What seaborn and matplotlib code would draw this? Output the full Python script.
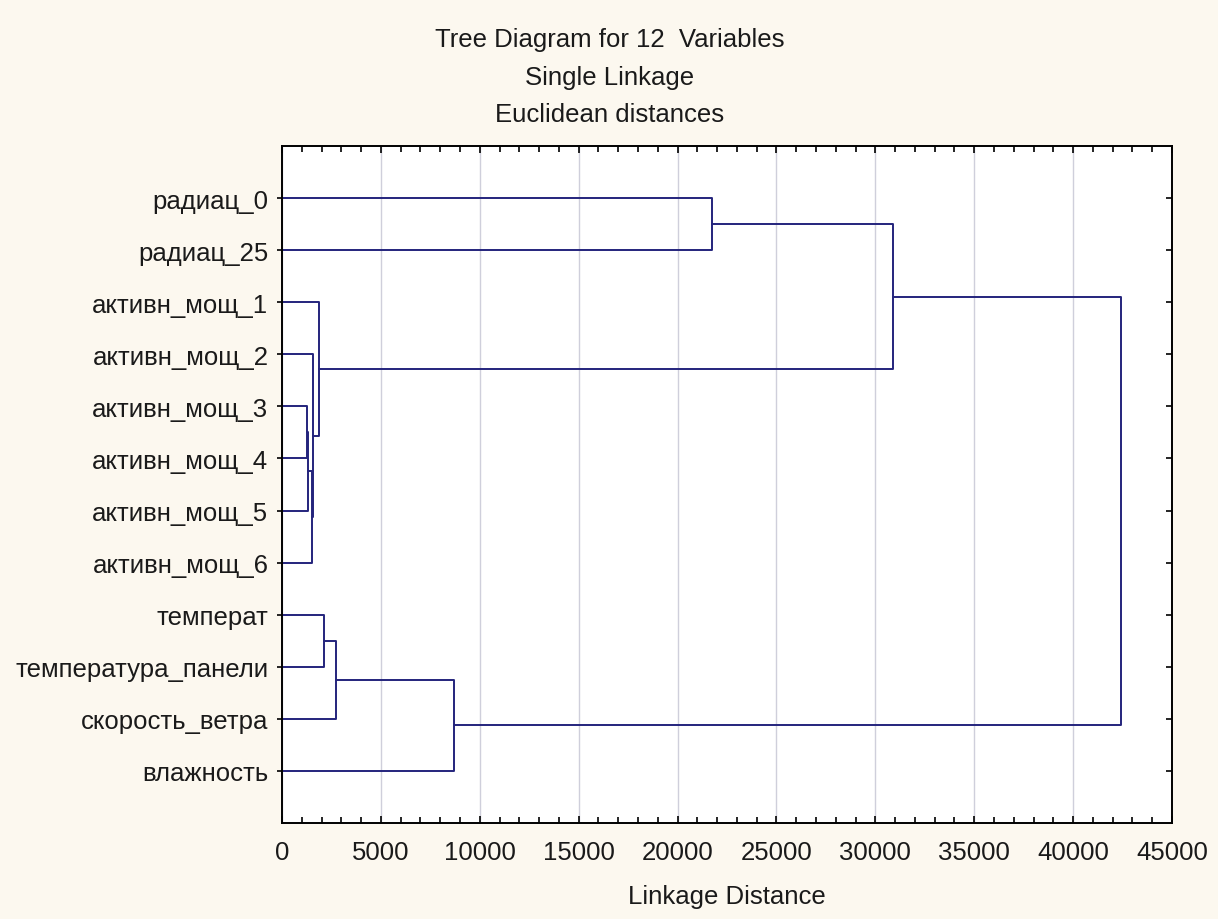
import numpy as np
import pandas as pd
import matplotlib
matplotlib.use("Agg")
import matplotlib.pyplot as plt
from matplotlib.ticker import MultipleLocator
import seaborn as sns

# ---- data ----
labels = ["радиац_0", "радиац_25", "активн_мощ_1", "активн_мощ_2",
          "активн_мощ_3", "активн_мощ_4", "активн_мощ_5", "активн_мощ_6",
          "температ", "температура_панели", "скорость_ветра", "влажность"]
# merges: cluster ids 0..11 are leaves, new clusters get ids 12, 13, ...
merge_left = [4, 12, 13, 3, 2, 8, 17, 18, 0, 20, 21]
merge_right = [5, 6, 7, 14, 15, 9, 10, 11, 1, 16, 19]
merge_height = [1280, 1300, 1520, 1570, 1890, 2140, 2730, 8710, 21750, 30900, 42420]
title_lines = ["Tree Diagram for 12  Variables", "Single Linkage", "Euclidean distances"]
x_label = "Linkage Distance"

# ---- build dendrogram segments ----
pos = list(range(len(labels)))
hgt = [0.0] * len(labels)
rows = []
for k, (l, r, h) in enumerate(zip(merge_left, merge_right, merge_height)):
    path = [(hgt[l], pos[l]), (h, pos[l]), (h, pos[r]), (hgt[r], pos[r])]
    for i, (xx, yy) in enumerate(path):
        rows.append({"seg": k, "order": i, "dist": xx, "leaf": yy})
    pos.append((pos[l] + pos[r]) / 2.0)
    hgt.append(h)
df = pd.DataFrame(rows)

# ---- style ----
sns.set_style("white")
plt.rcParams["font.family"] = ["Liberation Sans", "DejaVu Sans"]

FS = 18.5
bg = "#fcf8ef"
line_col = "#24247c"
txt_col = "#1a1a1a"
fig = plt.figure(figsize=(12.18, 9.2), dpi=100, facecolor=bg)
ax = fig.add_axes([282 / 1218, 1 - 824 / 920, (1172 - 282) / 1218, (824 - 147) / 920])
ax.set_facecolor("white")

sns.lineplot(data=df, x="dist", y="leaf", units="seg", estimator=None,
             sort=False, color=line_col, linewidth=1.4, ax=ax, legend=False)

ax.set_xlim(0, 45000)
ax.set_ylim(len(labels), -1)
ax.set_yticks(range(len(labels)))
ax.set_yticklabels(labels, fontsize=FS, color=txt_col)
ax.xaxis.set_major_locator(MultipleLocator(5000))
ax.xaxis.set_minor_locator(MultipleLocator(1000))
ax.set_xticklabels([f"{int(v)}" for v in ax.get_xticks()])
ax.tick_params(axis="x", which="both", direction="in", top=True, bottom=True,
               labeltop=False, color="black", width=1.2, labelsize=FS,
               labelcolor=txt_col, pad=12)
ax.tick_params(axis="x", which="major", length=5)
ax.tick_params(axis="x", which="minor", length=4)
ax.tick_params(axis="y", which="major", direction="out", left=True, right=False,
               length=3.8, width=1.2, color="black", pad=6)
ax.xaxis.grid(True, which="major", color="#cfcfdb", linewidth=1.0)
ax.yaxis.grid(False)
ax.set_axisbelow(True)
for s in ax.spines.values():
    s.set_visible(True)
    s.set_color("black")
    s.set_linewidth(1.4)

ax.set_xlabel(x_label, fontsize=FS, color=txt_col, labelpad=15)
ax.set_ylabel("")

ax2 = ax.twinx()
ax2.set_ylim(ax.get_ylim())
ax2.set_yticks(range(len(labels)))
ax2.tick_params(axis="y", direction="in", length=4, width=1.2, color="black",
                labelright=False)
for s in ax2.spines.values():
    s.set_visible(False)

for txt, yy in zip(title_lines, [47, 85, 122]):
    fig.text(610 / 1218, 1 - yy / 920, txt, ha="center", va="baseline",
             fontsize=FS, color=txt_col)

fig.savefig("out.png", dpi=100, facecolor=bg)
